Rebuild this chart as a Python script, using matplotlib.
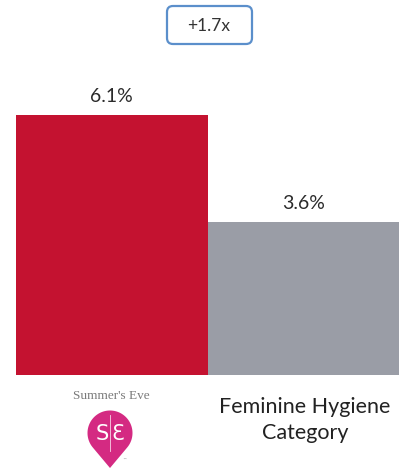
import numpy as np
import matplotlib
matplotlib.use("Agg")
import matplotlib.pyplot as plt
from matplotlib.patches import FancyBboxPatch, Polygon

categories = ["Summer's Eve", "Feminine Hygiene\nCategory"]
values = [6.1, 3.6]
value_labels = ["6.1%", "3.6%"]
bar_colors = ["#C41230", "#9A9DA6"]
badge_text = "+1.7x"

W, H = 401, 471
fig = plt.figure(figsize=(W / 100, H / 100), dpi=100)

# main bar axes
ax = fig.add_axes([16 / W, (H - 375) / H, 383 / W, 260 / H])
x = np.arange(len(values))
ax.bar(x, values, width=1.0, color=bar_colors, edgecolor="none")
ax.set_xlim(-0.5, 1.5)
ax.set_ylim(0, max(values))
ax.axis("off")
for xi, v, lab in zip(x, values, value_labels):
    ax.annotate(lab, (xi, v), xytext=(0, 7), textcoords="offset points",
                ha="center", va="bottom", fontsize=14, family="Lato",
                color="#2b2b2b", clip_on=False)

# overlay in pixel coordinates for decorations
ov = fig.add_axes([0, 0, 1, 1], zorder=5)
ov.set_xlim(0, W)
ov.set_ylim(H, 0)
ov.axis("off")

# badge
box = FancyBboxPatch((167, 6), 85, 38, boxstyle="round,pad=0,rounding_size=6",
                     fc="white", ec="#5B8FCB", lw=1.6)
ov.add_patch(box)
ov.text(209, 26, badge_text, ha="center", va="center", fontsize=12.5,
        family="Lato", color="#333333")

# category label right
ov.text(305, 420, categories[1], ha="center", va="center", fontsize=15.5,
        family="Lato", color="#222222", linespacing=1.4)

# Summer's Eve logo
ov.text(111, 396, categories[0], ha="center", va="center", fontsize=9.5,
        family="Liberation Serif", color="#7a7a7a")
cx, cy, r, tipy = 110, 433, 22.5, 468
d = tipy - cy
alpha = np.arccos(r / d)
ts = np.linspace(alpha, 2 * np.pi - alpha, 80)
pts = [(cx + r * np.sin(t), cy + r * np.cos(t)) for t in ts]
pts.append((cx, tipy))
ov.add_patch(Polygon(pts, closed=True, fc="#D42A82", ec="none"))
ov.text(102, 434, "S", ha="center", va="center", fontsize=15,
        family="DejaVu Sans", color="white")
ov.text(118, 434, "\u0190", ha="center", va="center", fontsize=15,
        family="DejaVu Sans", color="white")
ov.plot([110, 110], [415, 451], color="white", lw=0.6, alpha=0.8)
ov.text(124, 460, "\u2122", ha="center", va="center", fontsize=3,
        color="#888888")

fig.savefig("out.png", dpi=100, facecolor="white")
